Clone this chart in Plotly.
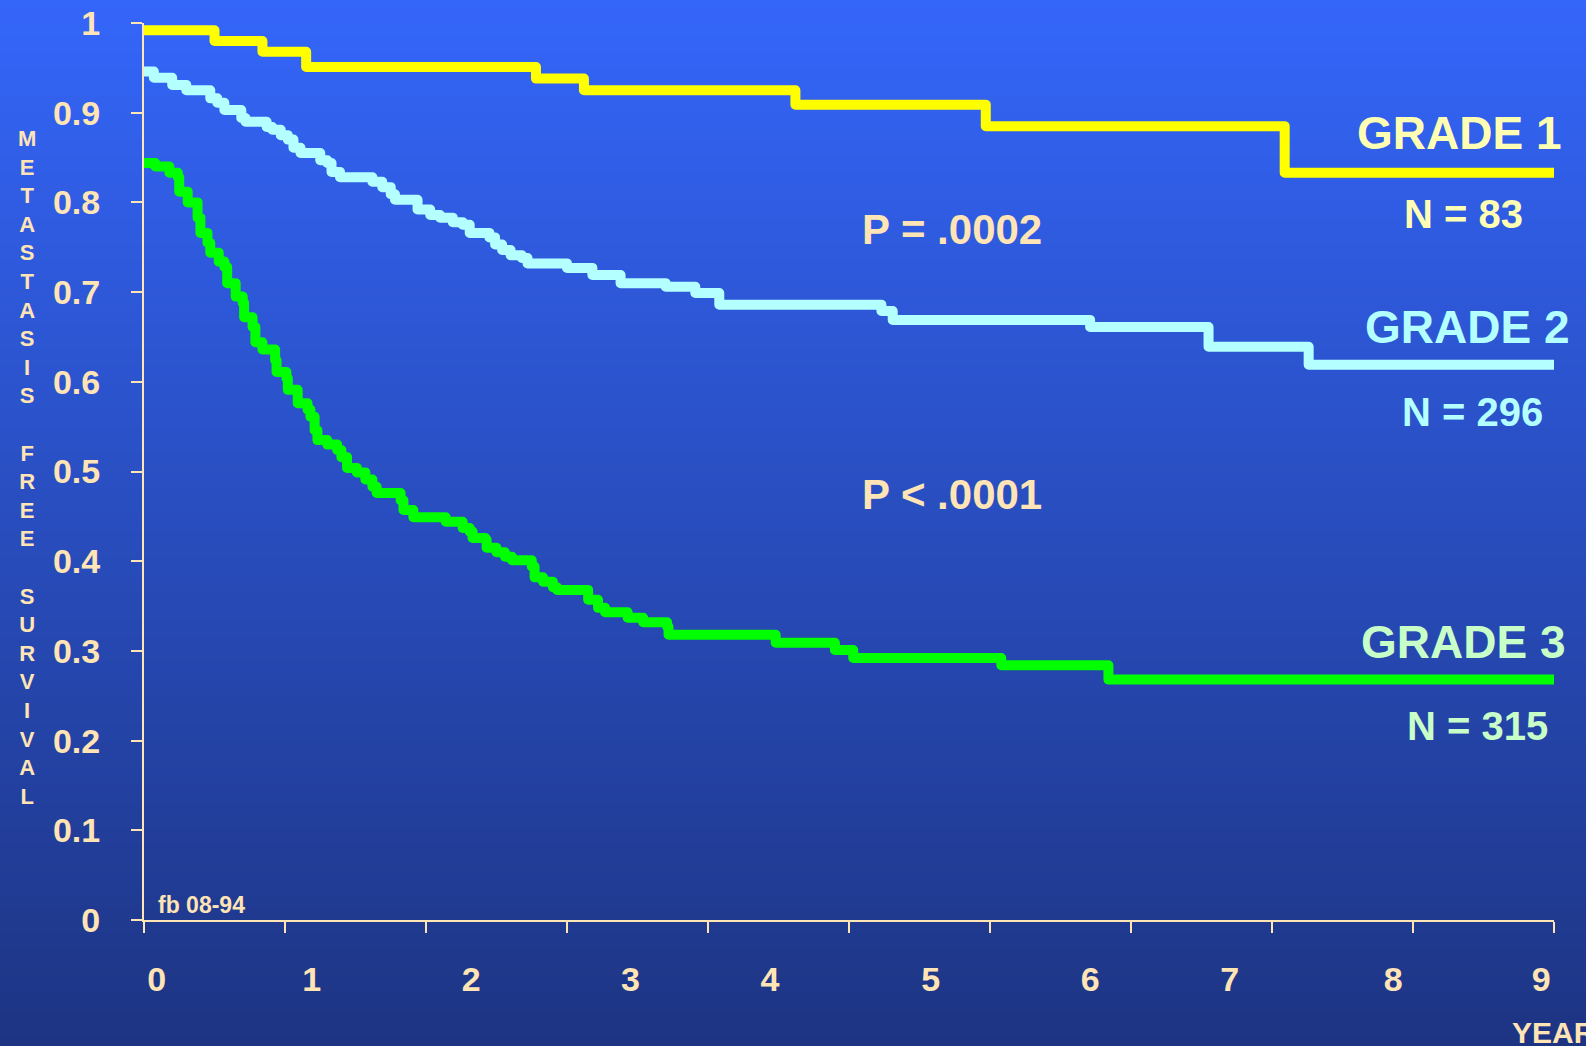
import plotly.graph_objects as go

# ---------------- data ----------------
grade1_t = [0, 0.50, 0.84, 1.15, 2.78, 3.12, 4.62, 5.97, 8.09, 10.0]
grade1_s = [0.992, 0.980, 0.968, 0.951, 0.938, 0.925, 0.909, 0.885, 0.833, 0.833]

grade2_t = [0, 0.07, 0.20, 0.30, 0.47, 0.52, 0.57, 0.69, 0.72, 0.87,
            0.91, 0.97, 1.02, 1.06, 1.11, 1.25, 1.30, 1.33, 1.39, 1.62,
            1.69, 1.75, 1.78, 1.94, 2.03, 2.10, 2.19, 2.26, 2.31, 2.45,
            2.49, 2.54, 2.60, 2.68, 2.72, 3.00, 3.18, 3.38, 3.70, 3.91,
            4.08, 5.23, 5.31, 6.71, 7.55, 8.26, 10.0]
grade2_s = [0.946, 0.939, 0.931, 0.925, 0.916, 0.911, 0.903, 0.894, 0.890, 0.884,
            0.881, 0.875, 0.870, 0.861, 0.855, 0.847, 0.844, 0.834, 0.828, 0.823,
            0.817, 0.809, 0.803, 0.792, 0.786, 0.783, 0.778, 0.775, 0.766, 0.761,
            0.753, 0.747, 0.741, 0.738, 0.732, 0.727, 0.719, 0.710, 0.706, 0.699,
            0.686, 0.679, 0.669, 0.661, 0.639, 0.619, 0.619]

grade3_t = [0, 0.08, 0.18, 0.24, 0.25, 0.31, 0.38, 0.40, 0.45, 0.47,
            0.53, 0.57, 0.59, 0.65, 0.70, 0.71, 0.77, 0.79, 0.84, 0.93,
            0.94, 1.01, 1.02, 1.09, 1.16, 1.18, 1.21, 1.23, 1.30, 1.37,
            1.40, 1.44, 1.51, 1.57, 1.62, 1.65, 1.82, 1.84, 1.91, 2.14,
            2.26, 2.31, 2.33, 2.42, 2.43, 2.50, 2.56, 2.61, 2.75, 2.77,
            2.83, 2.90, 2.93, 3.15, 3.22, 3.27, 3.43, 3.54, 3.71, 3.72,
            4.48, 4.90, 5.03, 6.08, 6.84, 10.0]
grade3_s = [0.844, 0.840, 0.833, 0.828, 0.812, 0.800, 0.783, 0.766, 0.755, 0.744,
            0.734, 0.728, 0.710, 0.695, 0.688, 0.672, 0.661, 0.644, 0.636, 0.624,
            0.611, 0.604, 0.591, 0.576, 0.569, 0.561, 0.546, 0.535, 0.530, 0.524,
            0.516, 0.504, 0.499, 0.491, 0.483, 0.476, 0.468, 0.457, 0.449, 0.444,
            0.437, 0.433, 0.426, 0.424, 0.415, 0.410, 0.405, 0.401, 0.394, 0.382,
            0.377, 0.371, 0.368, 0.357, 0.348, 0.343, 0.337, 0.332, 0.327, 0.318,
            0.309, 0.301, 0.292, 0.284, 0.268, 0.268]

x_tick_marks = list(range(0, 11))
x_label_pos = [0.09, 1.19, 2.32, 3.45, 4.44, 5.58, 6.71, 7.70, 8.86, 9.91]
x_label_text = ["0", "1", "2", "3", "4", "5", "6", "7", "8", "9"]
y_tick_vals = [0, 0.1, 0.2, 0.3, 0.4, 0.5, 0.6, 0.7, 0.8, 0.9, 1.0]
y_tick_text = ["0", "0.1", "0.2", "0.3", "0.4", "0.5", "0.6", "0.7", "0.8", "0.9", "1"]

# ---------------- layout geometry ----------------
W, H = 1586, 1046
PX_L, PX_R, PX_T, PX_B = 144, 1554, 23, 920
FONT = "Liberation Sans, Arial, Helvetica, sans-serif"
WHEAT = "#FFE4B5"


def px(x):
    return (x - PX_L) / (PX_R - PX_L)


def py(y):
    return (PX_B - y) / (PX_B - PX_T)


fig = go.Figure()

series = [
    (grade1_t, grade1_s, "#FFFF00", "GRADE 1"),
    (grade2_t, grade2_s, "#B4FFFF", "GRADE 2"),
    (grade3_t, grade3_s, "#00FF00", "GRADE 3"),
]
for t, s, c, name in series:
    fig.add_trace(go.Scatter(x=t, y=s, mode="lines", name=name,
                             line=dict(color=c, width=10, shape="hv"),
                             showlegend=False, hoverinfo="skip"))

# background gradient (top bright blue -> bottom navy)
top = (52, 102, 250)
bot = (29, 52, 130)
N = 120
shapes = []
for i in range(N):
    f = (i + 0.5) / N
    col = tuple(int(round(top[k] + (bot[k] - top[k]) * f)) for k in range(3))
    y_top = i * H / N
    y_bot = (i + 1) * H / N + 1
    shapes.append(dict(type="rect", xref="paper", yref="paper",
                       x0=px(-5), x1=px(W + 5), y0=py(y_bot), y1=py(y_top),
                       fillcolor="rgb(%d,%d,%d)" % col, line=dict(width=0),
                       layer="below"))

ytitle = "<br>".join(list("METASTASIS") + ["\u00a0"] + list("FREE") + ["\u00a0"] + list("SURVIVAL"))

ann = []


def add_text(text, x, y, size, color, xanchor="center", yanchor="middle"):
    ann.append(dict(text=text, x=px(x), y=py(y), xref="paper", yref="paper",
                    xanchor=xanchor, yanchor=yanchor, showarrow=False,
                    font=dict(family=FONT, size=size, color=color, weight="bold")))


add_text("GRADE 1", 1563, 133, 46, "#FFFFB4", xanchor="right")
add_text("N = 83", 1463, 214, 40, "#FFFFB4")
add_text("GRADE 2", 1571, 327, 46, "#B4FFFF", xanchor="right")
add_text("N = 296", 1472, 412, 40, "#B4FFFF")
add_text("GRADE 3", 1567, 642, 46, "#C8FFC8", xanchor="right")
add_text("N = 315", 1477, 726, 40, "#C8FFC8")
add_text("P = .0002", 860, 230, 42, WHEAT, xanchor="left")
add_text("P < .0001", 860, 494, 42, WHEAT, xanchor="left")
add_text("fb 08-94", 156, 905, 23, WHEAT, xanchor="left")
add_text("YEARS", 1510, 1032, 30, WHEAT, xanchor="left")
add_text(ytitle, 27, 467, 22, WHEAT)

fig.update_layout(
    template="none",
    width=W, height=H, autosize=False,
    margin=dict(l=PX_L, r=W - PX_R, t=PX_T, b=H - PX_B, pad=0),
    paper_bgcolor="rgb(40,76,190)",
    plot_bgcolor="rgba(0,0,0,0)",
    shapes=shapes,
    annotations=ann,
    xaxis=dict(range=[0, 10], tickmode="array", tickvals=x_label_pos, ticktext=x_label_text,
               ticks="", automargin=False,
               minor=dict(tickmode="array", tickvals=x_tick_marks, ticks="outside",
                          ticklen=11, tickwidth=2, tickcolor=WHEAT, showgrid=False),
               showline=True, linecolor=WHEAT, linewidth=2,
               ticklabelstandoff=28,
               tickfont=dict(family=FONT, size=34, color=WHEAT, weight="bold"),
               showgrid=False, zeroline=False, fixedrange=True),
    yaxis=dict(range=[0, 1.0], tickmode="array", tickvals=y_tick_vals, ticktext=y_tick_text,
               ticks="outside", ticklen=11, tickwidth=2, tickcolor=WHEAT,
               showline=True, linecolor=WHEAT, linewidth=2, automargin=False,
               showgrid=False, zeroline=False, ticklabelstandoff=24, fixedrange=True,
               tickfont=dict(family=FONT, size=34, color=WHEAT, weight="bold")),
)

post = """
document.body.style.margin='0';
document.querySelectorAll('.js-line').forEach(function(p){
  p.style.strokeLinejoin='round'; p.style.strokeLinecap='round';
});
"""
fig.write_html("out.html", post_script=post, config={"displayModeBar": False})
